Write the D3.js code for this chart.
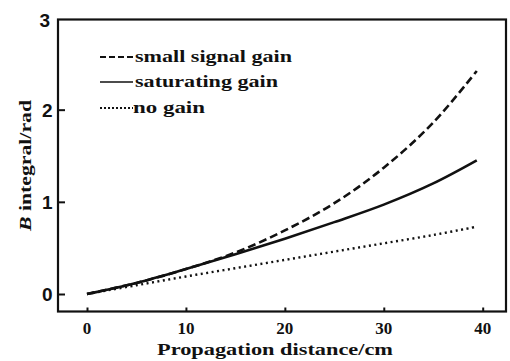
<!DOCTYPE html>
<html>
<head>
<meta charset="utf-8">
<script src="https://cdn.jsdelivr.net/npm/d3@7/dist/d3.min.js"></script>
<style>
  body { margin: 0; background: #fff; }
  svg text { fill: #111; }
</style>
</head>
<body>
<div id="chart"></div>
<script>
// propagation distance (cm); the curves stop a little short of 40
const distance = [0, 5, 10, 15, 20, 25, 30, 35, 39.4];
// B integral (rad)
const smallSignal = [0, 0.12, 0.27, 0.45, 0.69, 0.985, 1.37, 1.86, 2.42];
const saturating  = [0, 0.12, 0.27, 0.43, 0.60, 0.78, 0.97, 1.20, 1.45];
const noGain      = [0, 0.095, 0.19, 0.28, 0.37, 0.46, 0.55, 0.64, 0.73];
const xTicks = [0, 10, 20, 30, 40];
const yTicks = [0, 1, 2, 3];
const seriesNames = ["small signal gain", "saturating gain", "no gain"];

const width = 510, height = 361;
const frame = { left: 58, top: 19.5, right: 506, bottom: 311.5 };

const svg = d3.select("#chart").append("svg")
  .attr("width", width)
  .attr("height", height);

const x = d3.scaleLinear().domain([0, 40]).range([87, 482.7]);
const y = d3.scaleLinear().domain([0, 3]).range([294, 17.5]);

// frame
svg.append("rect")
  .attr("x", frame.left).attr("y", frame.top)
  .attr("width", frame.right - frame.left)
  .attr("height", frame.bottom - frame.top)
  .attr("fill", "none").attr("stroke", "#111").attr("stroke-width", 2.2);

// x axis: ticks pointing in
const xAxis = svg.append("g")
  .attr("transform", "translate(0," + frame.bottom + ")")
  .call(d3.axisTop(x).tickValues(xTicks).tickSize(4).tickSizeOuter(0).tickFormat(""));
xAxis.select(".domain").remove();
xAxis.selectAll(".tick line").attr("stroke", "#111").attr("stroke-width", 2);

svg.selectAll(".xlab")
  .data(xTicks)
  .enter().append("text")
  .attr("class", "xlab")
  .attr("x", d => x(d))
  .attr("y", 334)
  .attr("text-anchor", "middle")
  .style("font-family", "'Liberation Serif', serif")
  .style("font-weight", "bold")
  .style("font-size", "17px")
  .text(d => d);

// y axis: ticks pointing in
const yAxis = svg.append("g")
  .attr("transform", "translate(" + frame.left + ",0)")
  .call(d3.axisRight(y).tickValues(yTicks.slice(0, 3)).tickSize(7).tickSizeOuter(0).tickFormat(""));
yAxis.select(".domain").remove();
yAxis.selectAll(".tick line").attr("stroke", "#111").attr("stroke-width", 2);

svg.selectAll(".ylab")
  .data(yTicks)
  .enter().append("text")
  .attr("class", "ylab")
  .attr("x", d => d === 3 ? 50 : 52.5)
  .attr("y", d => (d === 3 ? 20 : y(d)) + 7)
  .attr("text-anchor", "end")
  .style("font-family", "'Liberation Sans', Arial, sans-serif")
  .style("font-weight", "bold")
  .style("font-size", "19px")
  .text(d => d);

// axis titles
svg.append("text")
  .attr("x", 157).attr("y", 355)
  .attr("textLength", 236).attr("lengthAdjust", "spacingAndGlyphs")
  .style("font-family", "'Liberation Serif', serif")
  .style("font-weight", "bold")
  .style("font-size", "17px")
  .text("Propagation distance/cm");

const yTitle = svg.append("text")
  .attr("transform", "translate(31,231) rotate(-90)")
  .attr("textLength", 131).attr("lengthAdjust", "spacingAndGlyphs")
  .style("font-family", "'Liberation Serif', serif")
  .style("font-weight", "bold")
  .style("font-size", "17px");
yTitle.append("tspan").style("font-style", "italic").text("B");
yTitle.append("tspan").text(" integral/rad");

// curves
const series = [
  { name: seriesNames[0], values: smallSignal, dash: "8,4", w: 2.6 },
  { name: seriesNames[1], values: saturating, dash: null, w: 2.6 },
  { name: seriesNames[2], values: noGain, dash: "2,3.5", w: 2.4 }
];

const line = d3.line()
  .x((d, i) => x(distance[i]))
  .y(d => y(d))
  .curve(d3.curveCatmullRom.alpha(0.5));

svg.selectAll(".curve")
  .data(series)
  .enter().append("path")
  .attr("class", "curve")
  .attr("d", d => line(d.values))
  .attr("fill", "none")
  .attr("stroke", "#111")
  .attr("stroke-width", d => d.w)
  .attr("stroke-dasharray", d => d.dash);

// legend
const legendY = [57, 82, 108];
const legendTextLen = [157, 143, 72];
const legend = svg.selectAll(".legend")
  .data(series)
  .enter().append("g")
  .attr("class", "legend")
  .attr("transform", (d, i) => "translate(0," + legendY[i] + ")");

legend.append("line")
  .attr("x1", 100).attr("x2", (d, i) => i === 0 ? 135 : 133)
  .attr("y1", 0).attr("y2", 0)
  .attr("stroke", "#111")
  .attr("stroke-width", (d, i) => i === 1 ? 1.6 : 2)
  .attr("stroke-dasharray", (d, i) => i === 0 ? "6,3" : i === 2 ? "2,2" : null);

legend.append("text")
  .attr("x", (d, i) => i === 2 ? 133 : 135)
  .attr("y", 5)
  .attr("textLength", (d, i) => legendTextLen[i])
  .attr("lengthAdjust", "spacingAndGlyphs")
  .style("font-family", "'Liberation Serif', serif")
  .style("font-weight", "bold")
  .style("font-size", "16px")
  .text(d => d.name);
</script>
</body>
</html>
